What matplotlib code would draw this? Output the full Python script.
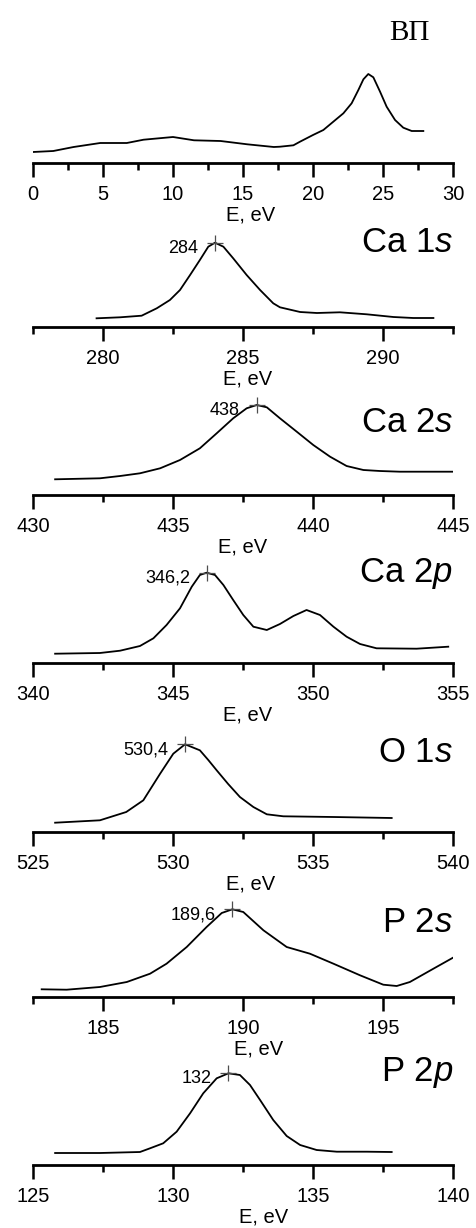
import numpy as np
import matplotlib
matplotlib.use("Agg")
import matplotlib.pyplot as plt
from matplotlib.ticker import MultipleLocator

plt.rcParams['font.family'] = ['Liberation Sans', 'DejaVu Sans']
plt.rcParams['mathtext.fontset'] = 'custom'
plt.rcParams['mathtext.rm'] = 'Liberation Sans'
plt.rcParams['mathtext.it'] = 'Liberation Sans:italic'

# ---- data (energies in eV, intensity in arbitrary units) ----
vb_e = [0.0, 1.45, 2.9, 4.8, 6.7, 7.9, 10.0, 11.5, 13.4, 15.3, 17.2, 17.64, 18.6,
        19.07, 20.0, 20.74, 21.45, 22.17, 22.76, 23.24, 23.6, 23.95, 24.31, 24.79,
        25.26, 25.86, 26.45, 27.05, 27.88]
vb_i = [11, 12, 16, 20, 20, 23.3, 26, 22.7, 22, 18.7, 16, 16.3, 17.7,
        21.3, 28, 33, 41.3, 49.7, 59.7, 73, 83.7, 89, 85.7, 71.3,
        56.3, 43, 35.3, 32, 32]

ca1s_e = [279.77, 280.61, 281.38, 281.92, 282.39, 282.75, 283.11, 283.46, 283.76,
          284.0, 284.3, 284.65, 285.13, 285.61, 286.08, 286.32, 287.04, 287.64,
          288.46, 289.42, 290.37, 291.08, 291.8]
ca1s_i = [8.7, 9.7, 11.3, 18.7, 27, 37, 52, 67, 80.3,
          84.3, 80.3, 68.7, 52, 37, 23.7, 19.7, 15, 14,
          14.7, 12.7, 10, 9, 9]

ca2s_e = [430.79, 432.39, 433.11, 433.82, 434.54, 435.25, 435.96, 436.56, 437.15,
          437.63, 437.99, 438.35, 438.82, 439.42, 440.01, 440.61, 441.2, 441.8,
          442.39, 443.1, 445.0]
ca2s_i = [15.7, 16.7, 19, 21.7, 26.7, 35, 46.7, 61.7, 76.7,
          86.7, 90, 87.7, 76.7, 63.3, 50, 38.3, 29, 25,
          24, 23.3, 23.3]

ca2p_e = [340.79, 342.39, 343.11, 343.82, 344.3, 344.77, 345.25, 345.67, 345.96,
          346.2, 346.5, 346.8, 347.15, 347.51, 347.87, 348.35, 348.82, 349.3,
          349.77, 350.25, 350.73, 351.2, 351.68, 352.27, 353.7, 354.83]
ca2p_i = [9.3, 10, 12.3, 17, 24.7, 38, 54.7, 76.3, 88,
          90.3, 88, 78, 63, 48, 36.3, 33, 39, 47,
          53, 48, 36.3, 26.3, 19, 14.7, 14.3, 16.3]

o1s_e = [525.79, 527.39, 528.33, 528.94, 529.24, 529.54, 530.01, 530.43, 530.96,
         531.26, 531.56, 531.97, 532.39, 532.87, 533.35, 533.94, 535.73, 537.81]
o1s_i = [9.3, 11.7, 20, 31.7, 45, 58.3, 78.3, 87.7, 81.7,
         72, 61.7, 48, 35, 25, 17.7, 15.7, 15, 14]

p2s_e = [182.81, 183.7, 184.89, 185.85, 186.68, 187.27, 187.99, 188.7, 189.24,
         189.62, 190.01, 190.73, 191.56, 192.39, 193.23, 194.18, 195.01, 195.49,
         195.96, 196.8, 197.5]
p2s_i = [7.7, 7.3, 10, 15, 23.3, 33.3, 50, 70, 84,
         87.7, 85, 66.7, 50, 43.3, 33.3, 21.7, 12.3, 11,
         15, 28.3, 39.3]

p2p_e = [125.79, 127.39, 128.82, 129.18, 129.65, 130.13, 130.61, 131.08, 131.56,
         131.98, 132.39, 132.75, 133.11, 133.58, 134.06, 134.54, 135.13, 135.85,
         136.92, 137.81]
p2p_i = [12, 12, 13, 16.7, 21.7, 33.3, 51.7, 71.7, 86.7,
         91.7, 90, 80, 65, 45, 29, 20, 15, 13.3,
         13.3, 13]

spectra = [(vb_e, vb_i), (ca1s_e, ca1s_i), (ca2s_e, ca2s_i), (ca2p_e, ca2p_i),
           (o1s_e, o1s_i), (p2s_e, p2s_i), (p2p_e, p2p_i)]
x_ranges = [(0, 30), (277.5, 292.5), (430, 445), (340, 355),
            (525, 540), (182.5, 197.5), (125, 140)]
titles = ['ВП', 'Ca 1$s$', 'Ca 2$s$', 'Ca 2$p$', 'O 1$s$', 'P 2$s$', 'P 2$p$']
peak_e = [None, 284.0, 437.99, 346.2, 530.43, 189.62, 131.98]
peak_labels = [None, '284', '438', '346,2', '530,4', '189,6', '132']

# ---- layout (pixels) ----
W, H = 476, 1228
ax_left, ax_width, ax_height = 33, 420, 140
axis_y = [163, 327, 495, 663, 832, 997, 1165]
title_y = [130, 84, 72, 90, 80, 74, 92]
title_x = [0.945, 1.0, 1.0, 1.0, 1.0, 1.0, 1.0]
xlabel_x = [0.517, 0.512, 0.498, 0.51, 0.517, 0.538, 0.548]

fig = plt.figure(figsize=(W / 100, H / 100), dpi=100)

for k, (e, inten) in enumerate(spectra):
    ax = fig.add_axes([ax_left / W, (H - axis_y[k]) / H, ax_width / W, ax_height / H])
    ax.patch.set_visible(False)
    ax.plot(e, inten, color='black', lw=1.3, solid_joinstyle='round')
    ax.set_xlim(*x_ranges[k])
    ax.set_ylim(0, ax_height)

    for side in ['left', 'right', 'top']:
        ax.spines[side].set_visible(False)
    ax.spines['bottom'].set_linewidth(2.0)
    ax.set_yticks([])
    ax.xaxis.set_major_locator(MultipleLocator(5))
    ax.xaxis.set_minor_locator(MultipleLocator(2.5))
    ax.tick_params(axis='x', which='major', direction='out', length=10, width=1.8,
                   pad=6, labelsize=14.5)
    ax.tick_params(axis='x', which='minor', direction='out', length=5, width=1.8)
    ax.set_xlabel('E, eV', fontsize=14.5, labelpad=1)
    ax.xaxis.label.set_x(xlabel_x[k])

    if k == 0:
        ax.text(title_x[k], title_y[k], titles[k], transform=ax.get_yaxis_transform(),
                ha='right', va='center', fontsize=21, family='Liberation Serif')
    else:
        ax.text(title_x[k], title_y[k], titles[k], transform=ax.get_yaxis_transform(),
                ha='right', va='center', fontsize=25)

    if peak_e[k] is not None:
        py = np.interp(peak_e[k], e, inten)
        ax.plot(peak_e[k], py, marker='+', ms=11, mew=0.9, color='0.3')
        ax.annotate(peak_labels[k], (peak_e[k], py), textcoords='offset points',
                    xytext=(-12, -4), ha='right', va='center', fontsize=13)

fig.savefig('out.png', dpi=100)
